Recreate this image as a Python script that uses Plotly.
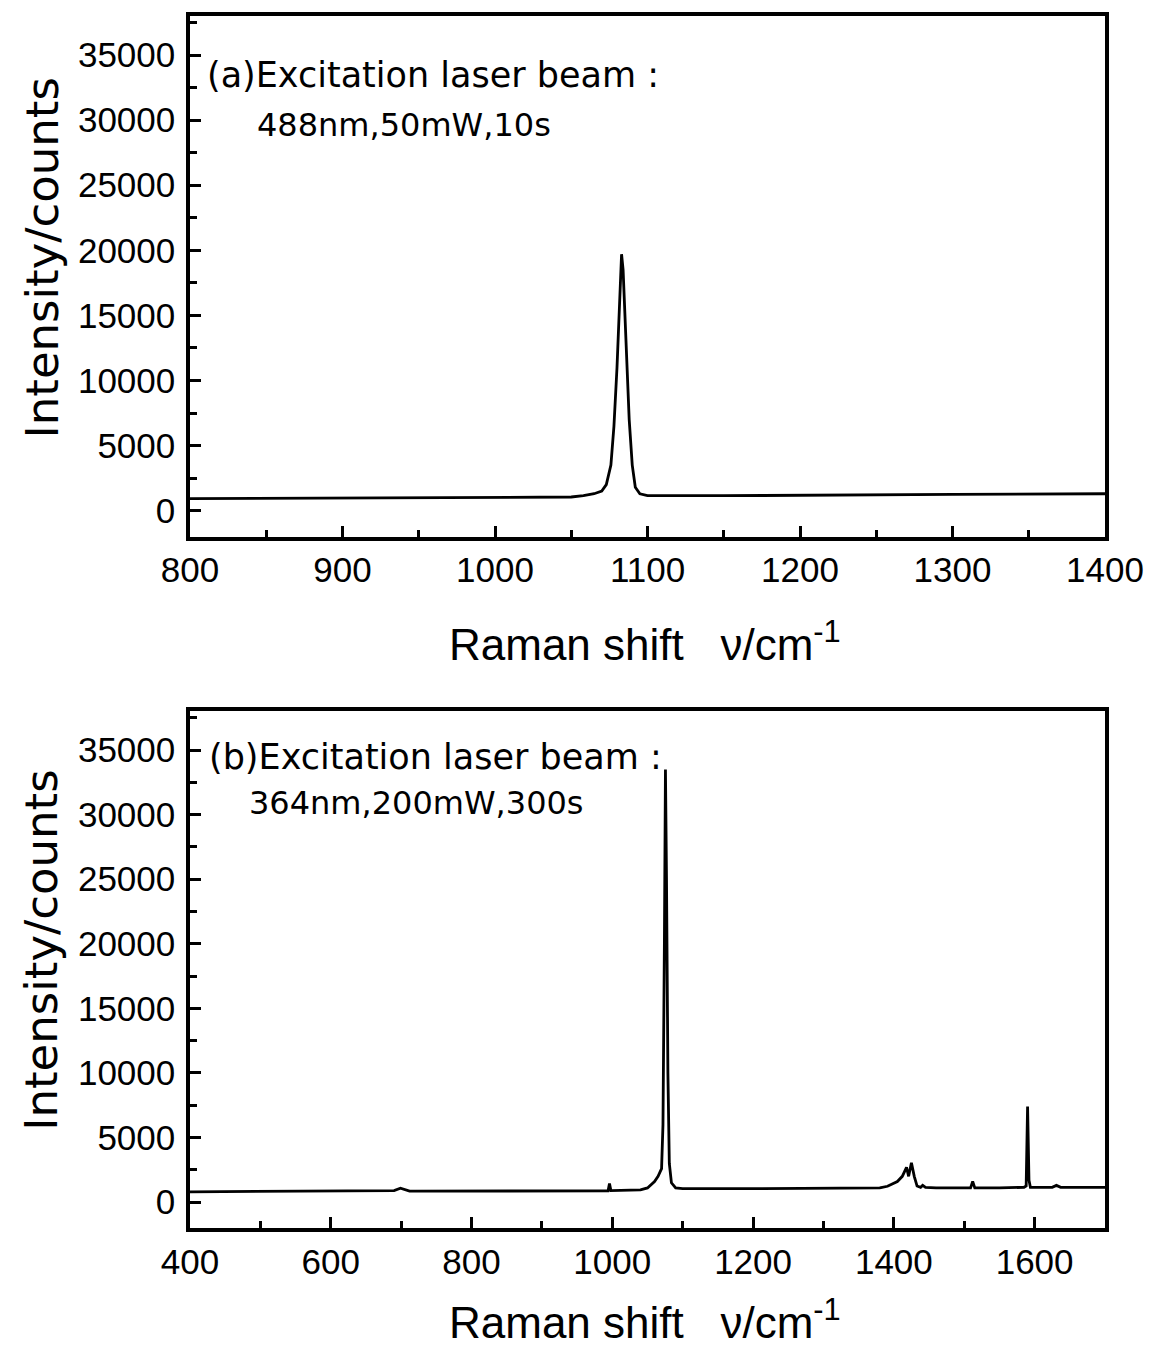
import plotly.graph_objects as go

# (a) 488 nm excitation spectrum
shift_a = [800, 850, 900, 950, 1000, 1040, 1050, 1058, 1065, 1070, 1073, 1076, 1078,
           1080, 1082, 1083, 1084, 1086, 1088, 1090, 1092, 1095, 1100, 1150, 1200,
           1300, 1400]
int_a = [920, 940, 960, 980, 1000, 1000, 1050, 1150, 1300, 1500, 2000, 3500, 6500,
         11000, 17000, 19700, 18500, 12500, 7000, 3500, 1800, 1300, 1150, 1150, 1200,
         1250, 1300]

# (b) 364 nm excitation spectrum
shift_b = [400, 500, 600, 650, 680, 690, 699, 705, 712, 720, 800, 900, 990, 994,
           996, 998, 1040, 1050, 1060, 1065, 1070, 1072, 1074, 1075.5, 1077, 1079,
           1081, 1084, 1090, 1100, 1200, 1300, 1380, 1391, 1405, 1412, 1418, 1421,
           1425, 1429, 1433, 1438, 1441, 1445, 1460, 1500, 1509, 1512, 1515, 1550,
           1585, 1588, 1590, 1592, 1594, 1600, 1625, 1631, 1637, 1700]
int_b = [800, 820, 830, 840, 850, 900, 1080, 950, 860, 850, 860, 870, 880, 880,
         1450, 900, 950, 1100, 1600, 2000, 2600, 6000, 20000, 33500, 25000, 10000,
         3000, 1500, 1100, 1050, 1050, 1050, 1100, 1230, 1600, 2000, 2700, 2000,
         3050, 2000, 1250, 1150, 1300, 1150, 1100, 1100, 1100, 1600, 1100, 1100,
         1150, 1250, 7400, 1700, 1150, 1150, 1150, 1300, 1150, 1150]

x_ticks_a = [800, 900, 1000, 1100, 1200, 1300, 1400]
x_ticks_b = [400, 600, 800, 1000, 1200, 1400, 1600]
y_ticks = [0, 5000, 10000, 15000, 20000, 25000, 30000, 35000]

x_title = "Raman shift \u00a0\u00a0\u03bd/cm<sup>-1</sup>"
y_title = "Intensity/counts"
label_a = ["(a)Excitation laser beam :", "488nm,50mW,10s"]
label_b = ["(b)Excitation laser beam :", "364nm,200mW,300s"]

TICKFONT = "Liberation Sans"
TEXTFONT = "DejaVu Sans"
W, H = 1156, 1355

fig = go.Figure()
fig.add_trace(go.Scatter(x=shift_a, y=int_a, mode="lines",
                         line=dict(color="black", width=2.8), xaxis="x", yaxis="y",
                         showlegend=False))
fig.add_trace(go.Scatter(x=shift_b, y=int_b, mode="lines",
                         line=dict(color="black", width=2.8), xaxis="x2", yaxis="y2",
                         showlegend=False))

common_axis = dict(showline=True, linecolor="black", linewidth=3.5, mirror=True,
                   showgrid=False, zeroline=False, ticks="inside", ticklen=11,
                   tickwidth=2.5, tickcolor="black",
                   tickfont=dict(family=TICKFONT, size=35, color="black"))
minor_common = dict(ticks="inside", ticklen=7, tickwidth=2.5, tickcolor="black")

l, r, t, b = 190, 44, 13, 127
ph = H - t - b
pw = W - l - r
top_dom = [(1228 - 535) / ph, 1.0]
bot_dom = [0.0, (1228 - 710) / ph]

fig.update_layout(
    width=W, height=H,
    margin=dict(l=l, r=r, t=t, b=b),
    paper_bgcolor="white", plot_bgcolor="white",
    xaxis=dict(common_axis, range=[800, 1400], tickvals=x_ticks_a,
               minor=dict(minor_common, dtick=50, tick0=800),
               anchor="y", domain=[0, 1], ticklabelstandoff=0),
    yaxis=dict(common_axis, range=[-2000, 38000], tickvals=y_ticks, tickformat="d",
               minor=dict(minor_common, dtick=2500, tick0=0),
               anchor="x", domain=top_dom, ticklabelstandoff=4),
    xaxis2=dict(common_axis, range=[400, 1700], tickvals=x_ticks_b,
                minor=dict(minor_common, dtick=100, tick0=400),
                anchor="y2", domain=[0, 1], ticklabelstandoff=0),
    yaxis2=dict(common_axis, range=[-2000, 38000], tickvals=y_ticks, tickformat="d",
                minor=dict(minor_common, dtick=2500, tick0=0),
                anchor="x2", domain=bot_dom, ticklabelstandoff=4),
)


def px_x(p):
    return (p - l) / pw


def px_y(p):
    return (t + ph - p) / ph


# axis titles (placed as paper annotations for precise positioning)
for yc in (640, 1320):
    fig.add_annotation(x=px_x(648), y=px_y(yc), xref="paper", yref="paper",
                       text=x_title, showarrow=False, xanchor="center", yanchor="middle",
                       font=dict(family=TICKFONT, size=44, color="black"))
for yc in (256, 950):
    fig.add_annotation(x=px_x(41), y=px_y(yc), xref="paper", yref="paper",
                       text=y_title, showarrow=False, textangle=-90,
                       xanchor="center", yanchor="middle",
                       font=dict(family=TEXTFONT, size=45, color="black"))

for (txt, xp, yp, fs) in [(label_a[0], 205, 72, 35), (label_a[1], 255, 122, 32),
                          (label_b[0], 207, 756, 35), (label_b[1], 247, 802, 32)]:
    fig.add_annotation(x=px_x(xp), y=px_y(yp), xref="paper", yref="paper",
                       text=txt, showarrow=False, xanchor="left", yanchor="middle",
                       font=dict(family=TEXTFONT, size=fs, color="black"))

fig.write_html("out.html")
